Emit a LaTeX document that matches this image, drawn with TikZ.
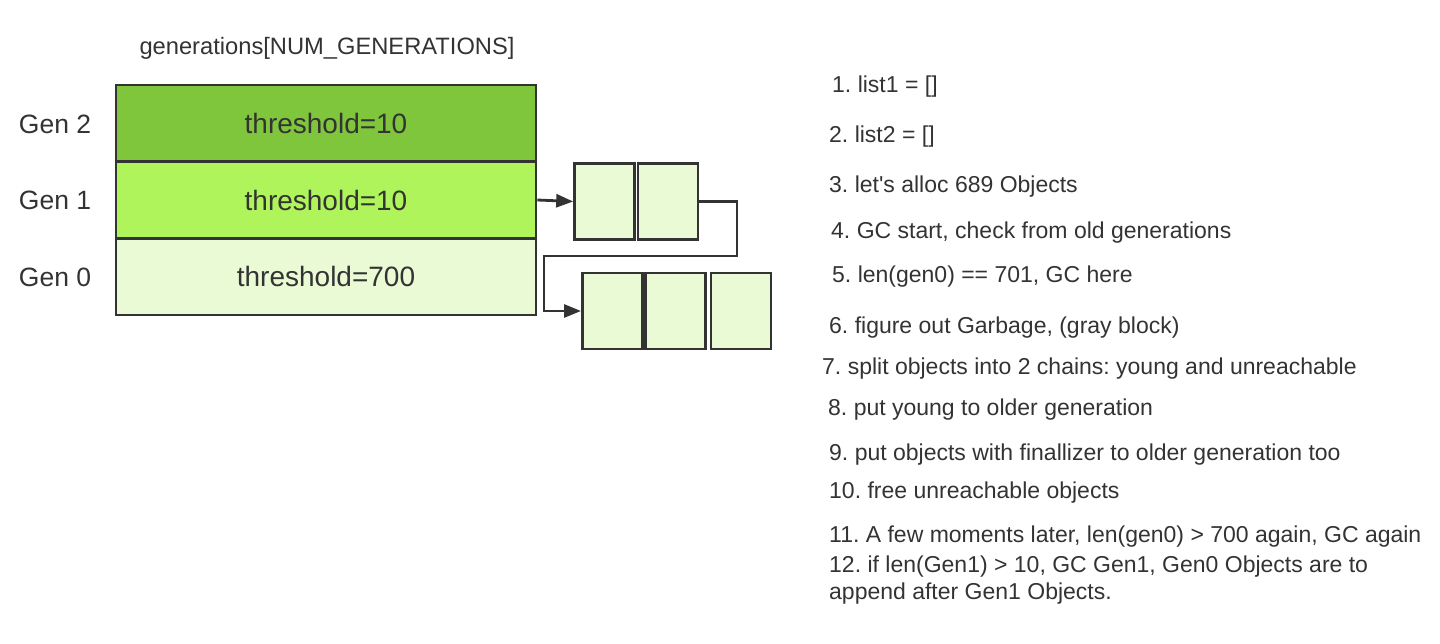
\documentclass[tikz,border=0pt]{standalone}
\usepackage{fontspec}
\setmainfont{Liberation Sans}
\usetikzlibrary{arrows.meta}
\definecolor{gentwo}{HTML}{7FC63D}
\definecolor{genone}{HTML}{AEF45A}
\definecolor{genzero}{HTML}{E9FAD4}
\definecolor{ink}{HTML}{333333}
\frenchspacing
\newcommand{\straightquote}{\XeTeXglyph\XeTeXcharglyph"27\relax}
\tikzset{
  genbox/.style={draw=ink, line width=2.6pt, minimum width=420pt, minimum height=76.7pt, inner sep=0pt, text=ink, font=\fontsize{28}{32}\selectfont},
  objbox/.style={draw=ink, line width=2.6pt, fill=genzero, minimum width=60pt, minimum height=76pt, inner sep=0pt},
  genlabel/.style={text=ink, font=\fontsize{26.5}{30}\selectfont},
  steptext/.style={anchor=west, text=ink, inner sep=0pt, font=\fontsize{23}{27}\selectfont},
  arr/.style={draw=ink, line width=2.8pt, -{Triangle[length=17pt,width=13pt]}}
}
\begin{document}
\begin{tikzpicture}[x=1pt,y=-1pt]
\useasboundingbox (0,0) rectangle (1440,644);
\node[text=ink, font=\fontsize{23.7}{27}\selectfont] (title) at (327,48) {generations[NUM\_GENERATIONS]};
\node[genbox, fill=gentwo] (g2) at (326,123.3) {threshold=10};
\node[genbox, fill=genone] (g1) at (326,200) {threshold=10};
\node[genbox, fill=genzero] (g0) at (326,276.7) {threshold=700};
\node[genlabel] (l2) at (55,124) {Gen 2};
\node[genlabel] (l1) at (55,200) {Gen 1};
\node[genlabel] (l0) at (55,277) {Gen 0};
\node[objbox] (a1) at (604.5,201.5) {};
\node[objbox] (a2) at (668,201.5) {};
\node[objbox] (b1) at (612.3,311) {};
\node[objbox] (b2) at (675.7,311) {};
\node[objbox] (b3) at (741,311) {};
\coordinate (k1) at (737,256);
\coordinate (k2) at (544,256);
\draw[arr] (g1.east) -- (a1.west);
\draw[arr] (a2.east) -| (k1) -- (k2) |- (b1.west);
\node[steptext] (s1) at (832,87) {1. list1 = []};
\node[steptext] (s2) at (829,137) {2. list2 = []};
\node[steptext] (s3) at (829,187) {3. let\straightquote s alloc 689 Objects};
\node[steptext] (s4) at (831,233) {4. GC start, check from old generations};
\node[steptext] (s5) at (832,277) {5. len(gen0) == 701, GC here};
\node[steptext] (s6) at (829,328) {6. figure out Garbage, (gray block)};
\node[steptext] (s7) at (822,369) {7. split objects into 2 chains: young and unreachable};
\node[steptext] (s8) at (828,410) {8. put young to older generation};
\node[steptext] (s9) at (829,455) {9. put objects with finallizer to older generation too};
\node[steptext] (s10) at (829,493) {10. free unreachable objects};
\node[steptext] (s11) at (829,537) {11. A few moments later, len(gen0) > 700 again, GC again};
\node[steptext] (s12) at (829,567) {12. if len(Gen1) > 10, GC Gen1, Gen0 Objects are to};
\node[steptext] (s12b) at (829,594) {append after Gen1 Objects.};
\end{tikzpicture}
\end{document}
